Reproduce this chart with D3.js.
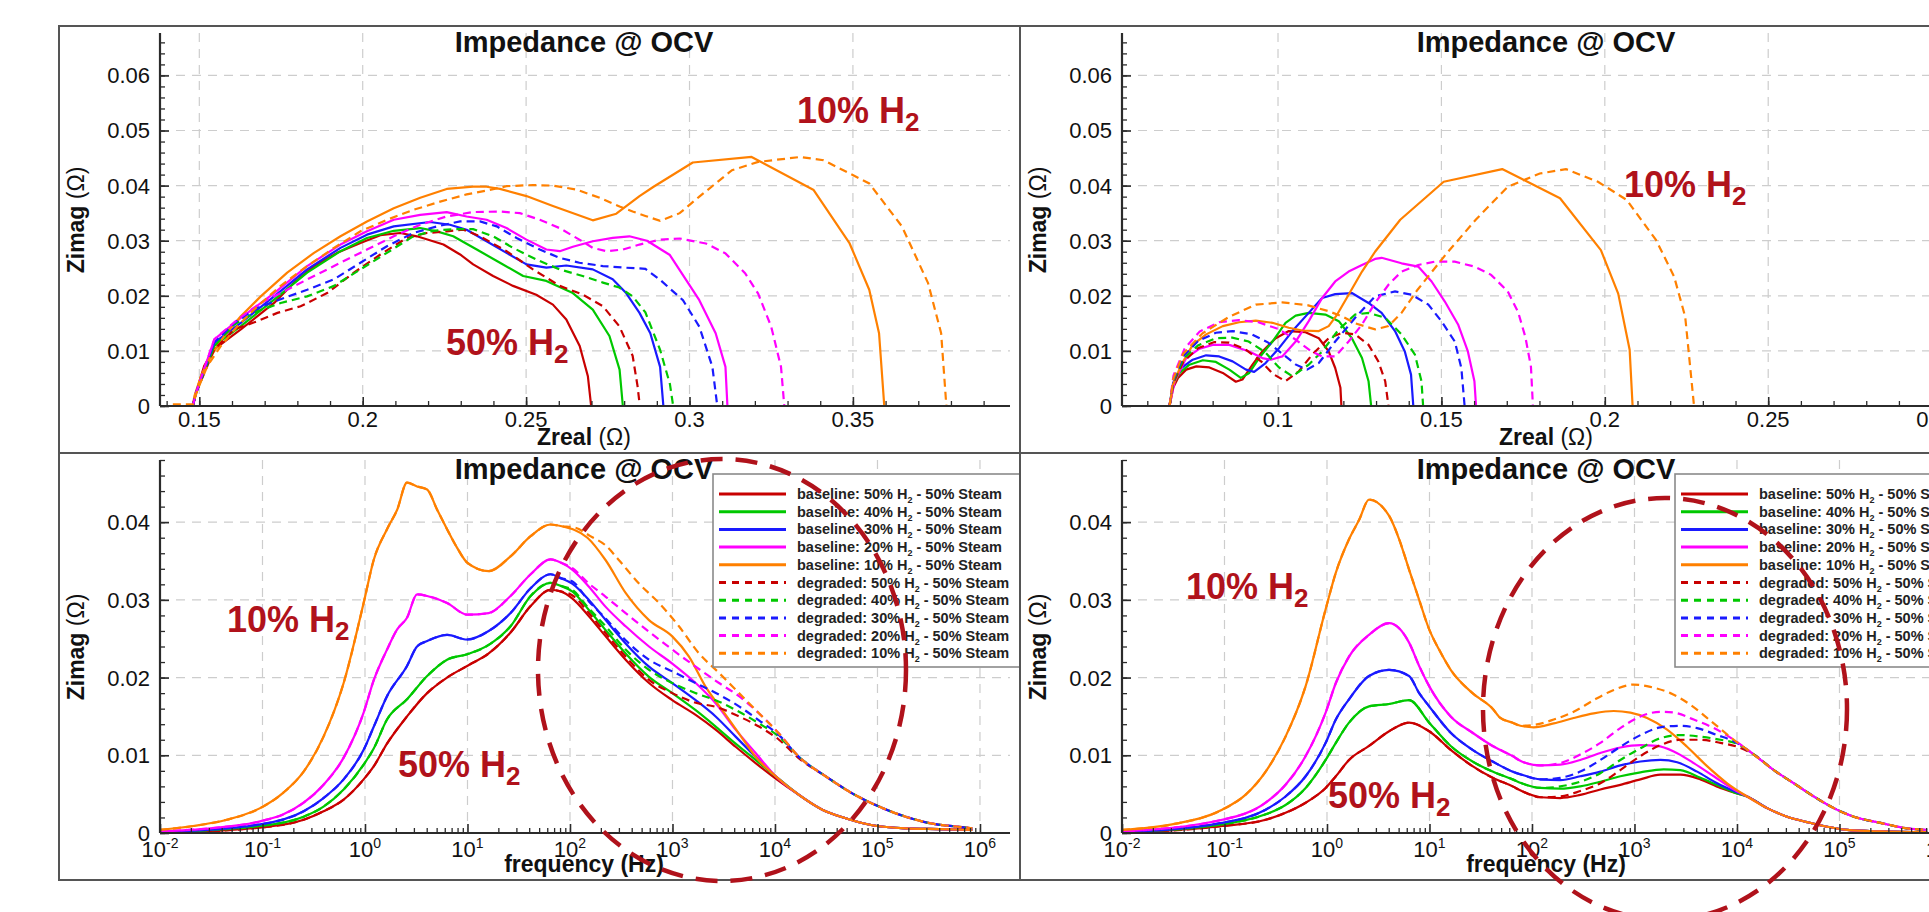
<!DOCTYPE html>
<html><head><meta charset="utf-8">
<script src="https://cdn.jsdelivr.net/npm/d3@7"></script>
<style>
body{margin:0;background:#fff;overflow:hidden}
text{font-family:"Liberation Sans",Arial,Helvetica,sans-serif}
</style></head><body>
<script>
// ================= DATA =================
const concentrations = ["50%","40%","30%","20%","10%"];
const conditions = ["baseline","degraded"];
const steamText = " - 50% Steam";
const titleText = "Impedance @ OCV";

const nyqXTicksA = [0.15,0.2,0.25,0.3,0.35];
const nyqXLabelsA = ["0.15","0.2","0.25","0.3","0.35"];
const nyqXTicksB = [0.1,0.15,0.2,0.25,0.3];
const nyqXLabelsB = ["0.1","0.15","0.2","0.25","0.3"];
const nyqYTicks = [0,0.01,0.02,0.03,0.04,0.05,0.06];
const nyqYLabels = ["0","0.01","0.02","0.03","0.04","0.05","0.06"];
const bodeXTicks = [1e-2,1e-1,1,1e1,1e2,1e3,1e4,1e5,1e6];
const bodeXExponents = ["-2","-1","0","1","2","3","4","5","6"];
const bodeYTicks = [0,0.01,0.02,0.03,0.04];
const bodeYLabels = ["0","0.01","0.02","0.03","0.04"];

// Nyquist, left (Zreal, Zimag) — order 50,40,30,20,10 % H2
const nyqA_base = [
 [[0.148,0],[0.149,0.0024],[0.1515,0.0073],[0.1546,0.0103],[0.1586,0.0121],[0.1627,0.0139],[0.1678,0.0163],[0.1729,0.0187],[0.179,0.0224],[0.1851,0.0254],[0.1922,0.0278],[0.1993,0.0296],[0.2054,0.031],[0.2115,0.0314],[0.2166,0.0308],[0.2247,0.0293],[0.2298,0.0275],[0.2338,0.0257],[0.2399,0.0236],[0.246,0.0218],[0.2531,0.0202],[0.2582,0.0184],[0.2623,0.0157],[0.2664,0.0109],[0.2689,0.0054],[0.2699,0]],
 [[0.148,0],[0.149,0.0024],[0.1546,0.0109],[0.1627,0.0145],[0.1729,0.0193],[0.183,0.0242],[0.1932,0.0281],[0.2013,0.0305],[0.2095,0.0318],[0.2176,0.0323],[0.2227,0.0317],[0.2277,0.0308],[0.2349,0.0284],[0.242,0.026],[0.2491,0.0236],[0.2562,0.0227],[0.2643,0.0205],[0.2704,0.0175],[0.2755,0.0127],[0.2786,0.0066],[0.2796,0]],
 [[0.148,0],[0.149,0.0024],[0.1546,0.0115],[0.1627,0.0151],[0.1729,0.0199],[0.183,0.0248],[0.1932,0.0287],[0.2013,0.0311],[0.2095,0.0326],[0.2206,0.0334],[0.2267,0.0329],[0.2318,0.032],[0.2379,0.0299],[0.244,0.0278],[0.2501,0.0257],[0.2562,0.0251],[0.2623,0.0255],[0.2704,0.0248],[0.2765,0.023],[0.2806,0.0205],[0.2847,0.0169],[0.288,0.0132],[0.291,0.0071],[0.292,0]],
 [[0.148,0],[0.149,0.0024],[0.1546,0.0121],[0.1627,0.016],[0.1729,0.0205],[0.183,0.0254],[0.1932,0.0293],[0.2013,0.0317],[0.2095,0.0338],[0.2176,0.0347],[0.2257,0.0352],[0.2318,0.0344],[0.2379,0.0338],[0.244,0.0323],[0.2501,0.0302],[0.2562,0.0284],[0.2603,0.0281],[0.2643,0.0289],[0.2704,0.0299],[0.2765,0.0305],[0.2816,0.0308],[0.287,0.03],[0.294,0.0274],[0.303,0.0192],[0.308,0.0132],[0.311,0.0071],[0.3116,0]],
 [[0.148,0],[0.1485,0.0018],[0.1505,0.0054],[0.1536,0.0091],[0.1576,0.0127],[0.1627,0.0163],[0.1688,0.0199],[0.1769,0.0242],[0.1851,0.0278],[0.1932,0.0308],[0.2013,0.0335],[0.2095,0.0359],[0.2176,0.0378],[0.2257,0.0394],[0.2338,0.0398],[0.2379,0.0398],[0.242,0.0394],[0.2501,0.0381],[0.2582,0.0363],[0.2704,0.0337],[0.2776,0.0349],[0.2847,0.0381],[0.289,0.0398],[0.301,0.0442],[0.319,0.0452],[0.338,0.0392],[0.349,0.0295],[0.355,0.0211],[0.358,0.0132],[0.3596,0]]
];
const nyqA_degr = [
 [[0.148,0],[0.149,0.0024],[0.1546,0.0103],[0.1607,0.0139],[0.1678,0.0154],[0.1739,0.0169],[0.181,0.0181],[0.1891,0.0205],[0.1973,0.0242],[0.2054,0.0275],[0.2135,0.0305],[0.2196,0.0314],[0.2257,0.0317],[0.2308,0.032],[0.2359,0.0308],[0.244,0.0281],[0.2521,0.0248],[0.2603,0.0218],[0.2674,0.0202],[0.2735,0.0181],[0.2785,0.0145],[0.2826,0.0091],[0.2841,0.0036],[0.2848,0]],
 [[0.148,0],[0.149,0.0024],[0.1546,0.0109],[0.1607,0.0148],[0.1678,0.0172],[0.1749,0.0187],[0.183,0.0199],[0.1912,0.0218],[0.1993,0.0248],[0.2074,0.0278],[0.2155,0.0308],[0.2216,0.0318],[0.2277,0.0321],[0.2338,0.0321],[0.2399,0.0308],[0.246,0.0287],[0.2531,0.0266],[0.2602,0.0248],[0.2673,0.0236],[0.2735,0.0224],[0.2785,0.0215],[0.2826,0.0199],[0.2865,0.017],[0.291,0.0102],[0.294,0.004],[0.295,0]],
 [[0.148,0],[0.149,0.0024],[0.1546,0.0115],[0.1607,0.0151],[0.1678,0.0178],[0.1759,0.0196],[0.183,0.0211],[0.1912,0.023],[0.1993,0.026],[0.2074,0.029],[0.2155,0.0314],[0.2227,0.0326],[0.2298,0.0335],[0.2359,0.0335],[0.241,0.0326],[0.2471,0.0305],[0.2542,0.0284],[0.2602,0.0269],[0.2663,0.026],[0.2735,0.0254],[0.2806,0.0251],[0.2865,0.0249],[0.291,0.0229],[0.298,0.0192],[0.303,0.0144],[0.307,0.0071],[0.3085,0]],
 [[0.148,0],[0.149,0.0024],[0.1546,0.0121],[0.1617,0.0157],[0.1688,0.0187],[0.1769,0.0211],[0.1851,0.0236],[0.1932,0.026],[0.2013,0.0284],[0.2095,0.0308],[0.2176,0.0329],[0.2257,0.0344],[0.2338,0.0352],[0.242,0.0353],[0.2481,0.035],[0.2542,0.0338],[0.2602,0.0323],[0.2663,0.0302],[0.2704,0.0287],[0.2745,0.0281],[0.2796,0.0284],[0.2847,0.0293],[0.291,0.0302],[0.297,0.0304],[0.305,0.0295],[0.311,0.0277],[0.317,0.0241],[0.321,0.0204],[0.325,0.0144],[0.328,0.0071],[0.329,0]],
 [[0.1419,0.0003],[0.148,0.0003],[0.1495,0.003],[0.1525,0.0073],[0.1566,0.0109],[0.1617,0.0145],[0.1678,0.0181],[0.1749,0.0218],[0.183,0.0254],[0.1912,0.0287],[0.1993,0.0317],[0.2074,0.0338],[0.2155,0.0356],[0.2237,0.0371],[0.2318,0.0384],[0.2379,0.0391],[0.244,0.0399],[0.2521,0.0401],[0.2582,0.04],[0.2653,0.0393],[0.2725,0.0378],[0.2786,0.0362],[0.2826,0.0353],[0.2865,0.0345],[0.291,0.0336],[0.297,0.035],[0.303,0.038],[0.313,0.0428],[0.321,0.0443],[0.334,0.0452],[0.341,0.0446],[0.355,0.0404],[0.365,0.0326],[0.373,0.0223],[0.377,0.0132],[0.3786,0]]
];

// Nyquist, right
const nyqB_base = [
 [[0.0668,0],[0.0679,0.0033],[0.0694,0.0051],[0.0719,0.0066],[0.075,0.0072],[0.079,0.007],[0.0831,0.006],[0.0871,0.0044],[0.0891,0.0048],[0.0922,0.0075],[0.0952,0.0099],[0.0993,0.0123],[0.1033,0.0136],[0.1084,0.0134],[0.1125,0.0123],[0.1155,0.0099],[0.1175,0.0069],[0.1191,0.0033],[0.1194,0]],
 [[0.0668,0],[0.0679,0.0039],[0.0699,0.006],[0.0729,0.0075],[0.077,0.0083],[0.081,0.008],[0.0851,0.0066],[0.0886,0.0051],[0.0912,0.006],[0.0942,0.0087],[0.0983,0.0117],[0.1023,0.0151],[0.1054,0.0164],[0.1094,0.0169],[0.1145,0.0166],[0.1186,0.0154],[0.1226,0.0123],[0.1257,0.0087],[0.1277,0.0045],[0.1285,0]],
 [[0.0668,0],[0.0679,0.0042],[0.0704,0.0069],[0.0739,0.0084],[0.078,0.0092],[0.082,0.009],[0.0861,0.0081],[0.0902,0.0066],[0.0927,0.0062],[0.0962,0.0078],[0.1003,0.0105],[0.1044,0.0136],[0.1094,0.0169],[0.1135,0.0196],[0.1175,0.0203],[0.1226,0.0205],[0.1277,0.0187],[0.1317,0.0169],[0.1358,0.0136],[0.1388,0.0099],[0.1407,0.0057],[0.1414,0]],
 [[0.0668,0],[0.0684,0.0045],[0.0719,0.0087],[0.076,0.0104],[0.08,0.0111],[0.0851,0.0111],[0.0912,0.0099],[0.0952,0.0087],[0.0978,0.0084],[0.1013,0.009],[0.1054,0.0117],[0.1094,0.0154],[0.1135,0.0196],[0.1175,0.0226],[0.1216,0.0244],[0.1257,0.0256],[0.1297,0.0267],[0.1317,0.0269],[0.1378,0.0259],[0.1429,0.0253],[0.147,0.0226],[0.151,0.019],[0.1551,0.0148],[0.1581,0.0099],[0.1601,0.0045],[0.1606,0]],
 [[0.0668,0],[0.0679,0.0039],[0.0704,0.0075],[0.0739,0.0111],[0.078,0.013],[0.0831,0.0145],[0.0881,0.0152],[0.0932,0.0155],[0.0983,0.0151],[0.1033,0.0142],[0.1074,0.0137],[0.1125,0.0136],[0.1155,0.0145],[0.1181,0.0166],[0.1216,0.0202],[0.1257,0.0244],[0.1297,0.028],[0.1374,0.0338],[0.1507,0.0407],[0.1686,0.043],[0.1863,0.0377],[0.1988,0.0283],[0.2041,0.0204],[0.2076,0.0102],[0.2085,0]]
];
const nyqB_degr = [
 [[0.0668,0],[0.068,0.0042],[0.071,0.008],[0.0755,0.0105],[0.0805,0.0116],[0.085,0.0115],[0.09,0.0103],[0.095,0.008],[0.0985,0.0058],[0.1023,0.0045],[0.1064,0.0063],[0.1104,0.0093],[0.1155,0.0123],[0.1196,0.0133],[0.1236,0.013],[0.1277,0.0111],[0.1307,0.0081],[0.1328,0.0045],[0.1338,0]],
 [[0.0668,0],[0.068,0.0045],[0.071,0.0085],[0.0755,0.011],[0.081,0.0123],[0.086,0.0124],[0.091,0.0117],[0.096,0.0098],[0.1003,0.007],[0.1044,0.0054],[0.1094,0.0075],[0.1135,0.0099],[0.1186,0.0139],[0.1236,0.0166],[0.1277,0.0169],[0.1328,0.016],[0.1378,0.013],[0.1419,0.0093],[0.1439,0.0045],[0.1444,0]],
 [[0.0668,0],[0.068,0.0048],[0.071,0.009],[0.0755,0.0118],[0.081,0.0133],[0.0861,0.0136],[0.092,0.013],[0.097,0.0115],[0.1013,0.0095],[0.1055,0.0075],[0.1089,0.0066],[0.1125,0.0078],[0.1175,0.0117],[0.1236,0.016],[0.1297,0.0199],[0.1358,0.0208],[0.1409,0.0202],[0.146,0.0184],[0.15,0.0154],[0.1541,0.0117],[0.1561,0.0069],[0.1571,0]],
 [[0.0668,0],[0.068,0.0055],[0.0715,0.0105],[0.076,0.0135],[0.082,0.0152],[0.088,0.0156],[0.094,0.0152],[0.1,0.014],[0.105,0.0122],[0.11,0.01],[0.1135,0.009],[0.1175,0.009],[0.1216,0.0117],[0.1257,0.0148],[0.1297,0.0187],[0.1338,0.022],[0.1378,0.0244],[0.1429,0.0256],[0.148,0.0262],[0.1541,0.0262],[0.1601,0.0253],[0.1652,0.0238],[0.1703,0.0208],[0.1735,0.017],[0.1757,0.0125],[0.1774,0.0071],[0.178,0]],
 [[0.0668,0],[0.068,0.005],[0.071,0.0095],[0.0769,0.0132],[0.0851,0.0162],[0.0932,0.0184],[0.1013,0.0188],[0.109,0.0183],[0.1155,0.0172],[0.1195,0.0163],[0.1236,0.015],[0.1297,0.0139],[0.1338,0.0145],[0.1378,0.0169],[0.1427,0.0211],[0.1516,0.0277],[0.1605,0.0338],[0.1703,0.0398],[0.1801,0.0422],[0.1881,0.043],[0.1979,0.0407],[0.2067,0.0374],[0.2157,0.0301],[0.2212,0.0235],[0.2246,0.0162],[0.2273,0]]
];

// Bode (frequency Hz, Zimag), left
const bodeA_base = [
 [[0.01,0],[0.0948,0.0007],[0.252,0.0017],[0.394,0.0028],[0.619,0.0043],[0.97,0.0069],[1.22,0.0086],[1.64,0.0115],[2.57,0.015],[4.04,0.018],[6.32,0.02],[9.93,0.0215],[16.1,0.0231],[26.3,0.0258],[41.3,0.0292],[64.7,0.0313],[81.1,0.0311],[105,0.0302],[153,0.0279],[223,0.0253],[349,0.0223],[590,0.0193],[995,0.0171],[1683,0.0152],[2636,0.0133],[4130,0.0111],[6471,0.009],[10162,0.007]],
 [[0.01,0.0001],[0.0948,0.0009],[0.252,0.0021],[0.394,0.0034],[0.619,0.0056],[0.97,0.0088],[1.22,0.0109],[1.64,0.0146],[2.57,0.0172],[4.04,0.0202],[6.32,0.0223],[9.93,0.023],[16.1,0.0242],[26.3,0.0266],[41.3,0.0305],[64.7,0.0322],[81.1,0.0318],[105,0.0311],[153,0.0287],[223,0.0261],[349,0.0231],[590,0.0201],[995,0.018],[1683,0.0158],[2636,0.0137],[4130,0.0115],[6471,0.0094],[10162,0.0073]],
 [[0.01,0.0001],[0.0948,0.0011],[0.252,0.0028],[0.394,0.0045],[0.619,0.0069],[0.97,0.0107],[1.22,0.0137],[1.64,0.0176],[2.57,0.0215],[3.22,0.024],[4.04,0.0247],[6.32,0.0255],[9.93,0.0249],[16.1,0.026],[26.3,0.0283],[41.3,0.0315],[64.7,0.0333],[81.1,0.0328],[105,0.0321],[153,0.03],[223,0.0274],[349,0.0244],[590,0.0214],[995,0.0193],[1683,0.0171],[2636,0.015],[4130,0.0124],[6471,0.0098],[10162,0.0073]],
 [[0.01,0.0002],[0.0308,0.0006],[0.0948,0.0015],[0.16,0.0024],[0.252,0.0039],[0.394,0.0062],[0.619,0.0097],[0.97,0.0155],[1.22,0.0197],[1.64,0.0236],[2.06,0.0262],[2.57,0.0277],[3.22,0.0307],[4.04,0.0305],[6.32,0.0296],[9.93,0.0281],[16.1,0.0283],[26.3,0.0305],[41.3,0.0333],[64.7,0.0352],[81.1,0.0348],[105,0.0339],[153,0.0317],[223,0.0291],[349,0.0266],[590,0.024],[995,0.0218],[1683,0.0193],[2636,0.0167],[4130,0.0133],[6471,0.0103],[10162,0.0073]],
 [[0.01,0.0004],[0.0212,0.0009],[0.0448,0.0017],[0.0948,0.0032],[0.16,0.0052],[0.252,0.0079],[0.394,0.0124],[0.619,0.0193],[0.97,0.0296],[1.22,0.0352],[1.64,0.0391],[2.06,0.0416],[2.57,0.0451],[3.22,0.0446],[4.04,0.0442],[5.06,0.0416],[6.32,0.0391],[7.93,0.0367],[9.93,0.0348],[16.1,0.0337],[26.3,0.0356],[41.3,0.0382],[64.7,0.0397],[81.1,0.0395],[148,0.038],[223,0.0351],[349,0.0309],[590,0.0274],[995,0.0253],[1449,0.0227],[2109,0.0188],[3062,0.0158],[4457,0.0128],[6471,0.0098],[10162,0.0073]]
];
const bodeA_baseTail = [[17140,0.0049],[28970,0.003],[48870,0.0019],[89130,0.001],[188400,0.0006],[398100,0.0005],[841400,0.0004]];
const bodeA_degrHigh = [
 [[105,0.0306],[153,0.0283],[223,0.0257],[349,0.0227],[590,0.0197],[995,0.018],[1560,0.0169],[2844,0.0161],[4457,0.015],[6982,0.0137],[10940,0.012],[17140,0.0096]],
 [[105,0.0313],[153,0.0289],[223,0.0266],[349,0.0236],[590,0.021],[995,0.0193],[1683,0.018],[2844,0.0169],[4457,0.0156],[6982,0.0141],[10940,0.0124],[17140,0.0098]],
 [[105,0.0324],[153,0.0298],[223,0.0276],[349,0.0248],[590,0.0223],[995,0.0208],[1683,0.0193],[2844,0.0178],[4457,0.0163],[6982,0.0145],[10940,0.0126],[17140,0.0098]],
 [[105,0.0341],[153,0.0321],[223,0.0304],[349,0.0283],[590,0.0259],[995,0.0236],[1683,0.0214],[2844,0.0193],[4457,0.0176],[6982,0.0154],[10940,0.0128],[17140,0.0098]],
 [[112,0.0393],[158,0.0382],[223,0.037],[301,0.0351],[471,0.0321],[738,0.0296],[1156,0.0266],[1816,0.0231],[2844,0.0206],[4457,0.018],[6982,0.0154],[10940,0.0128],[17140,0.0098]]
];
const bodeA_degrTail = [[31190,0.0073],[56750,0.0051],[103500,0.0034],[188400,0.0021],[342800,0.0012],[623700,0.0008],[841400,0.0006]];

// Bode, right
const bodeB_base = [
 [[0.01,0],[0.0948,0.0009],[0.252,0.0017],[0.394,0.0026],[0.619,0.0039],[0.97,0.0058],[1.22,0.0073],[1.64,0.0094],[2.57,0.0112],[4.04,0.0131],[6.32,0.0142],[9.93,0.0131],[16.1,0.0107],[26.3,0.0086],[41.3,0.0071],[64.7,0.006],[79.4,0.0054],[121,0.0046],[189,0.0045],[296,0.0049],[465,0.0056],[728,0.0062],[1143,0.0069],[1791,0.0075],[2805,0.0075],[4395,0.0069],[6887,0.0058],[10023,0.0051]],
 [[0.01,0.0001],[0.0948,0.0011],[0.252,0.0024],[0.394,0.0036],[0.619,0.0058],[0.97,0.0094],[1.22,0.0116],[1.64,0.0142],[2.57,0.0163],[4.04,0.0166],[6.32,0.0171],[9.93,0.0142],[16.1,0.0112],[26.3,0.0092],[41.3,0.0079],[64.7,0.0069],[79.4,0.0064],[121,0.0058],[189,0.0057],[296,0.006],[465,0.0066],[728,0.0073],[1143,0.0078],[1928,0.0082],[2805,0.0081],[4395,0.0071],[6887,0.006],[10023,0.0051]],
 [[0.01,0.0001],[0.0948,0.0013],[0.252,0.003],[0.394,0.0047],[0.619,0.0073],[0.97,0.0116],[1.22,0.0146],[1.64,0.0172],[2.57,0.0202],[4.04,0.021],[6.32,0.0202],[7.93,0.018],[9.93,0.0163],[16.1,0.0129],[26.3,0.0107],[41.3,0.0092],[64.7,0.0079],[79.4,0.0075],[121,0.0069],[189,0.0068],[296,0.0073],[465,0.0079],[728,0.0087],[1143,0.0092],[1791,0.0094],[2606,0.0091],[4083,0.0079],[6397,0.0064],[9311,0.0054]],
 [[0.01,0.0002],[0.0948,0.0017],[0.252,0.0039],[0.394,0.0062],[0.619,0.0099],[0.97,0.0155],[1.22,0.0193],[1.64,0.0227],[2.57,0.0255],[4.04,0.027],[6.32,0.0245],[7.93,0.0215],[9.93,0.0189],[16.1,0.015],[26.3,0.0129],[41.3,0.0112],[64.7,0.0099],[79.4,0.0092],[121,0.0087],[189,0.0088],[296,0.0094],[465,0.0103],[728,0.011],[1143,0.0113],[1660,0.0112],[2415,0.0105],[3784,0.009],[5943,0.0073],[9311,0.0056]],
 [[0.01,0.0004],[0.0308,0.0011],[0.0948,0.003],[0.16,0.0049],[0.252,0.0079],[0.394,0.0124],[0.619,0.0189],[0.97,0.0288],[1.22,0.0335],[1.64,0.0378],[2.06,0.0403],[2.57,0.0429],[4.04,0.0408],[5.06,0.0378],[6.32,0.0339],[7.93,0.03],[9.93,0.0262],[12.4,0.0236],[16.1,0.021],[26.3,0.018],[41.3,0.016],[49.1,0.0148],[64.7,0.0142],[76.9,0.0138],[104,0.0136],[163,0.0141],[255,0.0148],[400,0.0154],[627,0.0157],[912,0.0155],[1327,0.0148],[2080,0.0133],[3258,0.0111],[5105,0.0086],[8017,0.0064]]
];
const bodeB_baseTail = [[12560,0.0047],[19680,0.0032],[30830,0.0021],[48420,0.0014],[75860,0.0008],[118900,0.0004],[251200,0.0002],[717800,0.0001]];
const bodeB_degrHigh = [
 [[121,0.0046],[189,0.0047],[296,0.0054],[465,0.0064],[728,0.0081],[1143,0.0099],[1791,0.0113],[2805,0.012],[4395,0.012],[6887,0.0116],[10023,0.0111]],
 [[121,0.0058],[189,0.006],[296,0.0066],[465,0.0077],[728,0.0094],[1143,0.0109],[1791,0.0122],[2805,0.0126],[4395,0.0124],[6887,0.012],[10023,0.0115]],
 [[121,0.0069],[189,0.0071],[296,0.0079],[465,0.0094],[728,0.0111],[1143,0.0126],[1791,0.0136],[2805,0.0138],[4083,0.0135],[6397,0.0126],[9311,0.0118]],
 [[121,0.0087],[189,0.009],[296,0.0101],[465,0.0116],[728,0.0135],[1143,0.015],[1791,0.0156],[2415,0.0155],[3784,0.0146],[5943,0.0135],[9311,0.012]],
 [[104,0.0139],[163,0.0146],[255,0.0156],[400,0.0171],[627,0.0184],[982,0.0191],[1429,0.0188],[2239,0.018],[3516,0.0165],[5929,0.0141],[9311,0.012]]
];
const bodeB_degrTail = [[14590,0.0101],[22860,0.0081],[35810,0.0064],[56230,0.0047],[88100,0.0032],[138000,0.0021],[251200,0.0013],[458100,0.0006],[717800,0.0004]];

// ================= STYLE / LAYOUT =================
const seriesColors = ["#c80000","#00c800","#1a1aff","#ff00ff","#ff8000"];
const noteColor = "#b0121b";
const frameColor = "#555";
const axisColor = "#2b2b2b";
const gridColor = "#cdcdcd";

function joinParts(base, high, tail){
  return base.filter(p => p[0] < high[0][0]).concat(high, tail.filter(p => p[0] > high[high.length-1][0]));
}

const panels = [
 {key:"tl", type:"nyq", px:58, py:26, pw:962, xDomain:[0.13797,0.39807], yMax:0.0677,
  xTicks:nyqXTicksA, xLabels:nyqXLabelsA, yTicks:nyqYTicks, yLabels:nyqYLabels,
  base:nyqA_base, degr:nyqA_degr, xTitle:"Zreal ",
  notes:[{t:"10% H",x:797,y:123},{t:"50% H",x:446,y:355}]},
 {key:"tr", type:"nyq", px:1020, py:26, pw:909, xDomain:[0.05226,0.31236], yMax:0.0677,
  xTicks:nyqXTicksB, xLabels:nyqXLabelsB, yTicks:nyqYTicks, yLabels:nyqYLabels,
  base:nyqB_base, degr:nyqB_degr, xTitle:"Zreal ",
  notes:[{t:"10% H",x:1624,y:197}]},
 {key:"bl", type:"bode", px:58, py:453, pw:962, xDomain:[0.01,1.963e6], yMax:0.048,
  xTicks:bodeXTicks, yTicks:bodeYTicks, yLabels:bodeYLabels,
  base:bodeA_base.map(s=>s.concat(bodeA_baseTail)),
  degr:bodeA_degrHigh.map((h,i)=>joinParts(bodeA_base[i],h,bodeA_degrTail)),
  xTitle:"frequency (Hz)",
  notes:[{t:"10% H",x:227,y:632},{t:"50% H",x:398,y:777}],
  ellipse:{cx:722,cy:670,rx:184,ry:211}},
 {key:"br", type:"bode", px:1020, py:453, pw:909, xDomain:[0.01,1.963e6], yMax:0.048,
  xTicks:bodeXTicks, yTicks:bodeYTicks, yLabels:bodeYLabels,
  base:bodeB_base.map(s=>s.concat(bodeB_baseTail)),
  degr:bodeB_degrHigh.map((h,i)=>joinParts(bodeB_base[i],h,bodeB_degrTail)),
  xTitle:"frequency (Hz)",
  notes:[{t:"10% H",x:1186,y:599},{t:"50% H",x:1328,y:808}],
  ellipse:{cx:1665,cy:709,rx:182,ry:211}}
];

const svg = d3.select("body").append("svg").attr("width",1929).attr("height",912);
const defs = svg.append("defs");

function drawPanel(p){
  defs.append("clipPath").attr("id","clip-"+p.key).append("rect")
    .attr("x",p.px).attr("y",p.py).attr("width",p.pw).attr("height",427);
  const g = svg.append("g").attr("clip-path",`url(#clip-${p.key})`);
  const x0 = p.px+102, x1 = x0+850, y0 = p.py+380, yT = p.py+7;
  const x = p.type==="nyq" ? d3.scaleLinear().domain(p.xDomain).range([x0,x1])
                           : d3.scaleLog().domain(p.xDomain).range([x0,x1]);
  const y = d3.scaleLinear().domain([0,p.yMax]).range([y0,yT]);

  // grid
  g.append("g").selectAll("line").data(p.xTicks.filter(t => x(t) > x0+2)).join("line")
    .attr("x1",d=>x(d)).attr("x2",d=>x(d)).attr("y1",yT).attr("y2",y0)
    .attr("stroke",gridColor).attr("stroke-width",1.2).attr("stroke-dasharray","9,7");
  g.append("g").selectAll("line").data(p.yTicks.filter(t => t>0)).join("line")
    .attr("x1",x0).attr("x2",x1).attr("y1",d=>y(d)).attr("y2",d=>y(d))
    .attr("stroke",gridColor).attr("stroke-width",1.2).attr("stroke-dasharray","9,7");

  // curves
  const line = d3.line().x(d=>x(d[0])).y(d=>y(d[1]))
    .curve(p.type==="nyq" ? d3.curveLinear : d3.curveMonotoneX);
  const cg = g.append("g").attr("fill","none");
  p.base.forEach((s,i)=>cg.append("path").attr("d",line(s))
    .attr("stroke",seriesColors[i]).attr("stroke-width",2.2).attr("stroke-linejoin","round"));
  p.degr.forEach((s,i)=>cg.append("path").attr("d",line(s))
    .attr("stroke",seriesColors[i]).attr("stroke-width",2.2).attr("stroke-dasharray","8,5"));

  // axes (ticks inward)
  let minorX;
  if(p.type==="nyq"){
    minorX = d3.range(Math.ceil(p.xDomain[0]*100), Math.floor(p.xDomain[1]*100)+1).map(v=>v/100);
  } else {
    minorX = [];
    for(let e=-2;e<=6;e++) for(let m=2;m<=9;m++){ const v=m*Math.pow(10,e); if(v<p.xDomain[1]) minorX.push(v); }
  }
  const minorY = d3.range(0, Math.floor(p.yMax*500)+1).map(v=>v/500);
  const ax = g.append("g").attr("stroke",axisColor);
  g.append("g").attr("transform",`translate(0,${y0})`)
    .call(d3.axisBottom(x).tickValues(minorX).tickSize(-5).tickSizeOuter(0).tickFormat(""))
    .call(s=>{s.select(".domain").remove(); s.selectAll("line").attr("stroke",axisColor).attr("stroke-width",1.3);});
  g.append("g").attr("transform",`translate(0,${y0})`)
    .call(d3.axisBottom(x).tickValues(p.xTicks).tickSize(-9).tickSizeOuter(0).tickFormat(""))
    .call(s=>{s.select(".domain").remove(); s.selectAll("line").attr("stroke",axisColor).attr("stroke-width",1.6);});
  g.append("g").attr("transform",`translate(${x0},0)`)
    .call(d3.axisLeft(y).tickValues(minorY).tickSize(-5).tickSizeOuter(0).tickFormat(""))
    .call(s=>{s.select(".domain").remove(); s.selectAll("line").attr("stroke",axisColor).attr("stroke-width",1.3);});
  g.append("g").attr("transform",`translate(${x0},0)`)
    .call(d3.axisLeft(y).tickValues(p.yTicks).tickSize(-9).tickSizeOuter(0).tickFormat(""))
    .call(s=>{s.select(".domain").remove(); s.selectAll("line").attr("stroke",axisColor).attr("stroke-width",1.6);});
  ax.append("line").attr("x1",x0).attr("x2",x1).attr("y1",y0).attr("y2",y0).attr("stroke-width",2.2);
  ax.append("line").attr("x1",x0).attr("x2",x0).attr("y1",yT).attr("y2",y0).attr("stroke-width",2.2);

  // tick labels
  const tl = g.append("g").attr("fill","#111").attr("font-size",22);
  p.yTicks.forEach((t,i)=>tl.append("text").attr("x",x0-10).attr("y",y(t)).attr("dy","0.36em")
    .attr("text-anchor","end").text(p.yLabels[i]));
  if(p.type==="nyq"){
    p.xTicks.forEach((t,i)=>tl.append("text").attr("x",x(t)).attr("y",y0+21)
      .attr("text-anchor","middle").text(p.xLabels[i]));
  } else {
    p.xTicks.forEach((t,i)=>{
      const tx = tl.append("text").attr("x",x(t)).attr("y",y0+24).attr("text-anchor","middle");
      tx.append("tspan").text("10");
      tx.append("tspan").attr("font-size",14).attr("dy",-9).text(bodeXExponents[i]);
    });
  }

  // axis titles
  const xt = g.append("text").attr("x",x0+424).attr("y",p.py+419).attr("text-anchor","middle")
    .attr("font-size",23).attr("fill","#111");
  if(p.type==="nyq"){
    xt.append("tspan").attr("font-weight","bold").text(p.xTitle);
    xt.append("tspan").text("(\u03A9)");
  } else {
    xt.attr("font-weight","bold").text(p.xTitle);
  }
  const yt = g.append("text").attr("transform",`translate(${p.px+18},${p.py+194}) rotate(-90)`)
    .attr("text-anchor","middle").attr("dy","0.36em").attr("font-size",23).attr("fill","#111");
  yt.append("tspan").attr("font-weight","bold").text("Zimag ");
  yt.append("tspan").text("(\u03A9)");

  // legend
  if(p.type==="bode"){
    const lx = x0+553, ly = p.py+21;
    const lg = g.append("g");
    lg.append("rect").attr("x",lx).attr("y",ly).attr("width",330).attr("height",193)
      .attr("fill","#fff").attr("stroke","#8a8a8a").attr("stroke-width",1.6);
    let row = 0;
    conditions.forEach((c,ci)=>concentrations.forEach((h,hi)=>{
      const ry = p.py+41+row*17.7;
      lg.append("line").attr("x1",lx+6).attr("x2",lx+73).attr("y1",ry).attr("y2",ry)
        .attr("stroke",seriesColors[hi]).attr("stroke-width",3)
        .attr("stroke-dasharray",ci===1?"7,6":null);
      const t = lg.append("text").attr("x",lx+84).attr("y",ry+5).attr("font-size",14.5)
        .attr("font-weight","bold").attr("fill","#222");
      t.append("tspan").text(`${c}: ${h} H`);
      t.append("tspan").attr("font-size",9).attr("dy",4).text("2");
      t.append("tspan").attr("dy",-4).text(steamText);
      row++;
    }));
  }

  // title
  g.append("text").attr("x",x0+424).attr("y",p.py+26).attr("text-anchor","middle")
    .attr("font-size",29).attr("font-weight","bold").attr("fill","#111").text(titleText);

  // annotations
  p.notes.forEach(n=>{
    const t = g.append("text").attr("x",n.x).attr("y",n.y).attr("font-size",36)
      .attr("font-weight","bold").attr("fill",noteColor);
    t.append("tspan").text(n.t);
    t.append("tspan").attr("font-size",26).attr("dy",8).text("2");
  });
}

panels.forEach(drawPanel);

// frame
const fr = svg.append("g").attr("stroke",frameColor).attr("stroke-width",2);
fr.append("line").attr("x1",59).attr("x2",59).attr("y1",26).attr("y2",880);
fr.append("line").attr("x1",1020).attr("x2",1020).attr("y1",26).attr("y2",880);
fr.append("line").attr("x1",58).attr("x2",1929).attr("y1",26).attr("y2",26);
fr.append("line").attr("x1",58).attr("x2",1929).attr("y1",453).attr("y2",453);
fr.append("line").attr("x1",58).attr("x2",1929).attr("y1",880).attr("y2",880);

// highlight ellipses
panels.filter(p=>p.ellipse).forEach(p=>{
  svg.append("ellipse").attr("cx",p.ellipse.cx).attr("cy",p.ellipse.cy)
    .attr("rx",p.ellipse.rx).attr("ry",p.ellipse.ry)
    .attr("fill","none").attr("stroke",noteColor).attr("stroke-width",4.5)
    .attr("stroke-dasharray","22,13");
});
</script>
</body></html>
